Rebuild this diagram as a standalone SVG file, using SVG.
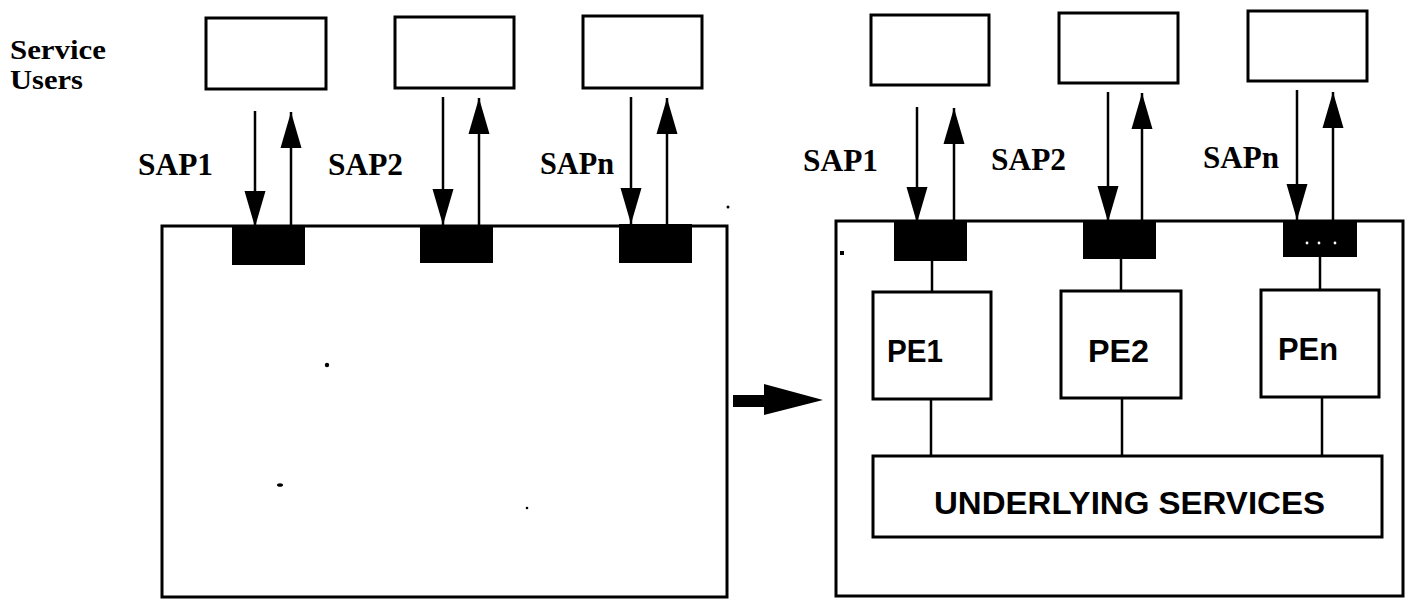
<svg xmlns="http://www.w3.org/2000/svg" width="1409" height="600" viewBox="0 0 1409 600">
<style>
.box{fill:#fff;stroke:#000;stroke-width:3}
.blk{fill:#000;stroke:none}
.ln{fill:none;stroke:#000;stroke-width:2.5}
.lbl{font-family:"Liberation Serif","Times New Roman",serif;font-weight:bold;font-size:32px;fill:#000}
.side{font-family:"Liberation Serif","Times New Roman",serif;font-weight:bold;font-size:27px;fill:#000}
.pe{font-family:"Liberation Sans",Arial,sans-serif;font-weight:bold;font-size:31px;fill:#000}
.speck{fill:#000}
</style>
<defs>
<marker id="ah" refX="36" refY="10.5" markerWidth="37" markerHeight="21" markerUnits="userSpaceOnUse" orient="auto" overflow="visible">
<path d="M0,0 L36,10.5 L0,21 z" fill="#000"/>
</marker>
</defs>

<text class="side" x="10" y="59" textLength="96" lengthAdjust="spacingAndGlyphs">Service</text>
<text class="side" x="10" y="89" textLength="73" lengthAdjust="spacingAndGlyphs">Users</text>

<!-- Left side -->
<g id="left-system">
<rect class="box" x="162" y="226" width="565" height="371"/>
</g>
<g id="left-user1"><rect class="box" x="206" y="18" width="120" height="71"/></g>
<g id="left-user2"><rect class="box" x="395" y="17" width="119" height="71"/></g>
<g id="left-user3"><rect class="box" x="583" y="16" width="119" height="72"/></g>
<g id="left-sap1"><rect class="blk" x="232" y="226" width="73" height="39"/><text class="lbl" x="138" y="175" textLength="75" lengthAdjust="spacingAndGlyphs">SAP1</text></g>
<g id="left-sap2"><rect class="blk" x="420" y="225" width="73" height="38"/><text class="lbl" x="328" y="175" textLength="75" lengthAdjust="spacingAndGlyphs">SAP2</text></g>
<g id="left-sapn"><rect class="blk" x="619" y="224" width="73" height="39"/><text class="lbl" x="540" y="174" textLength="74" lengthAdjust="spacingAndGlyphs">SAPn</text></g>

<!-- Right side -->
<g id="right-system">
<rect class="box" x="836" y="221" width="567" height="375"/>
</g>
<g id="right-user1"><rect class="box" x="871" y="15" width="118" height="70"/></g>
<g id="right-user2"><rect class="box" x="1059" y="13" width="119" height="70"/></g>
<g id="right-user3"><rect class="box" x="1248" y="11" width="119" height="70"/></g>
<g id="right-sap1"><rect class="blk" x="894" y="222" width="73" height="39"/><text class="lbl" x="803" y="171" textLength="75" lengthAdjust="spacingAndGlyphs">SAP1</text></g>
<g id="right-sap2"><rect class="blk" x="1083" y="221" width="73" height="38"/><text class="lbl" x="991" y="170" textLength="75" lengthAdjust="spacingAndGlyphs">SAP2</text></g>
<g id="right-sapn"><rect class="blk" x="1283" y="220" width="74" height="37"/>
<circle cx="1307" cy="243" r="1.4" fill="#fff"/><circle cx="1319" cy="243" r="1.4" fill="#fff"/><circle cx="1335" cy="243" r="1.4" fill="#fff"/>
<text class="lbl" x="1203" y="168" textLength="76" lengthAdjust="spacingAndGlyphs">SAPn</text></g>
<g id="pe1"><rect class="box" x="873" y="292" width="118" height="107"/><text class="pe" x="887" y="362" textLength="56" lengthAdjust="spacingAndGlyphs">PE1</text></g>
<g id="pe2"><rect class="box" x="1061" y="291" width="120" height="107"/><text class="pe" x="1088" y="362" textLength="61" lengthAdjust="spacingAndGlyphs">PE2</text></g>
<g id="pen"><rect class="box" x="1261" y="290" width="118" height="107"/><text class="pe" x="1278" y="360" textLength="60" lengthAdjust="spacingAndGlyphs">PEn</text></g>
<g id="underlying"><rect class="box" x="873" y="456" width="509" height="81"/><text class="pe" x="934" y="514" textLength="391" lengthAdjust="spacingAndGlyphs">UNDERLYING SERVICES</text></g>

<g id="connectors">
<!-- left SAP arrows -->
<line class="ln" x1="255" y1="111" x2="255" y2="227" marker-end="url(#ah)"/>
<line class="ln" x1="291" y1="226" x2="291" y2="112" marker-end="url(#ah)"/>
<line class="ln" x1="443" y1="97" x2="443" y2="225" marker-end="url(#ah)"/>
<line class="ln" x1="479" y1="225" x2="479" y2="98" marker-end="url(#ah)"/>
<line class="ln" x1="631" y1="97" x2="631" y2="224" marker-end="url(#ah)"/>
<line class="ln" x1="667" y1="224" x2="667" y2="98" marker-end="url(#ah)"/>
<!-- right SAP arrows -->
<line class="ln" x1="917" y1="107" x2="917" y2="223" marker-end="url(#ah)"/>
<line class="ln" x1="954" y1="222" x2="954" y2="108" marker-end="url(#ah)"/>
<line class="ln" x1="1108" y1="92" x2="1108" y2="222" marker-end="url(#ah)"/>
<line class="ln" x1="1142" y1="221" x2="1142" y2="93" marker-end="url(#ah)"/>
<line class="ln" x1="1297" y1="90" x2="1297" y2="220" marker-end="url(#ah)"/>
<line class="ln" x1="1333" y1="220" x2="1333" y2="92" marker-end="url(#ah)"/>
<!-- SAP to PE -->
<line class="ln" x1="932" y1="261" x2="932" y2="292"/>
<line class="ln" x1="1121" y1="259" x2="1121" y2="291"/>
<line class="ln" x1="1320" y1="257" x2="1320" y2="290"/>
<!-- PE to underlying -->
<line class="ln" x1="931" y1="399" x2="931" y2="456"/>
<line class="ln" x1="1122" y1="398" x2="1122" y2="456"/>
<line class="ln" x1="1322" y1="397" x2="1322" y2="456"/>
<!-- transformation arrow -->
<path d="M733,395 L764,395 L764,384 L823,400 L764,415 L764,407 L733,407 z" fill="#000"/>
</g>

<!-- scan specks -->
<circle class="speck" cx="728" cy="207" r="1.5"/>
<circle class="speck" cx="327" cy="365" r="2.2"/>
<ellipse class="speck" cx="280" cy="485" rx="3" ry="1.8"/>
<circle class="speck" cx="527" cy="508" r="1.3"/>
<rect class="speck" x="840" y="251" width="4" height="4"/>
</svg>
